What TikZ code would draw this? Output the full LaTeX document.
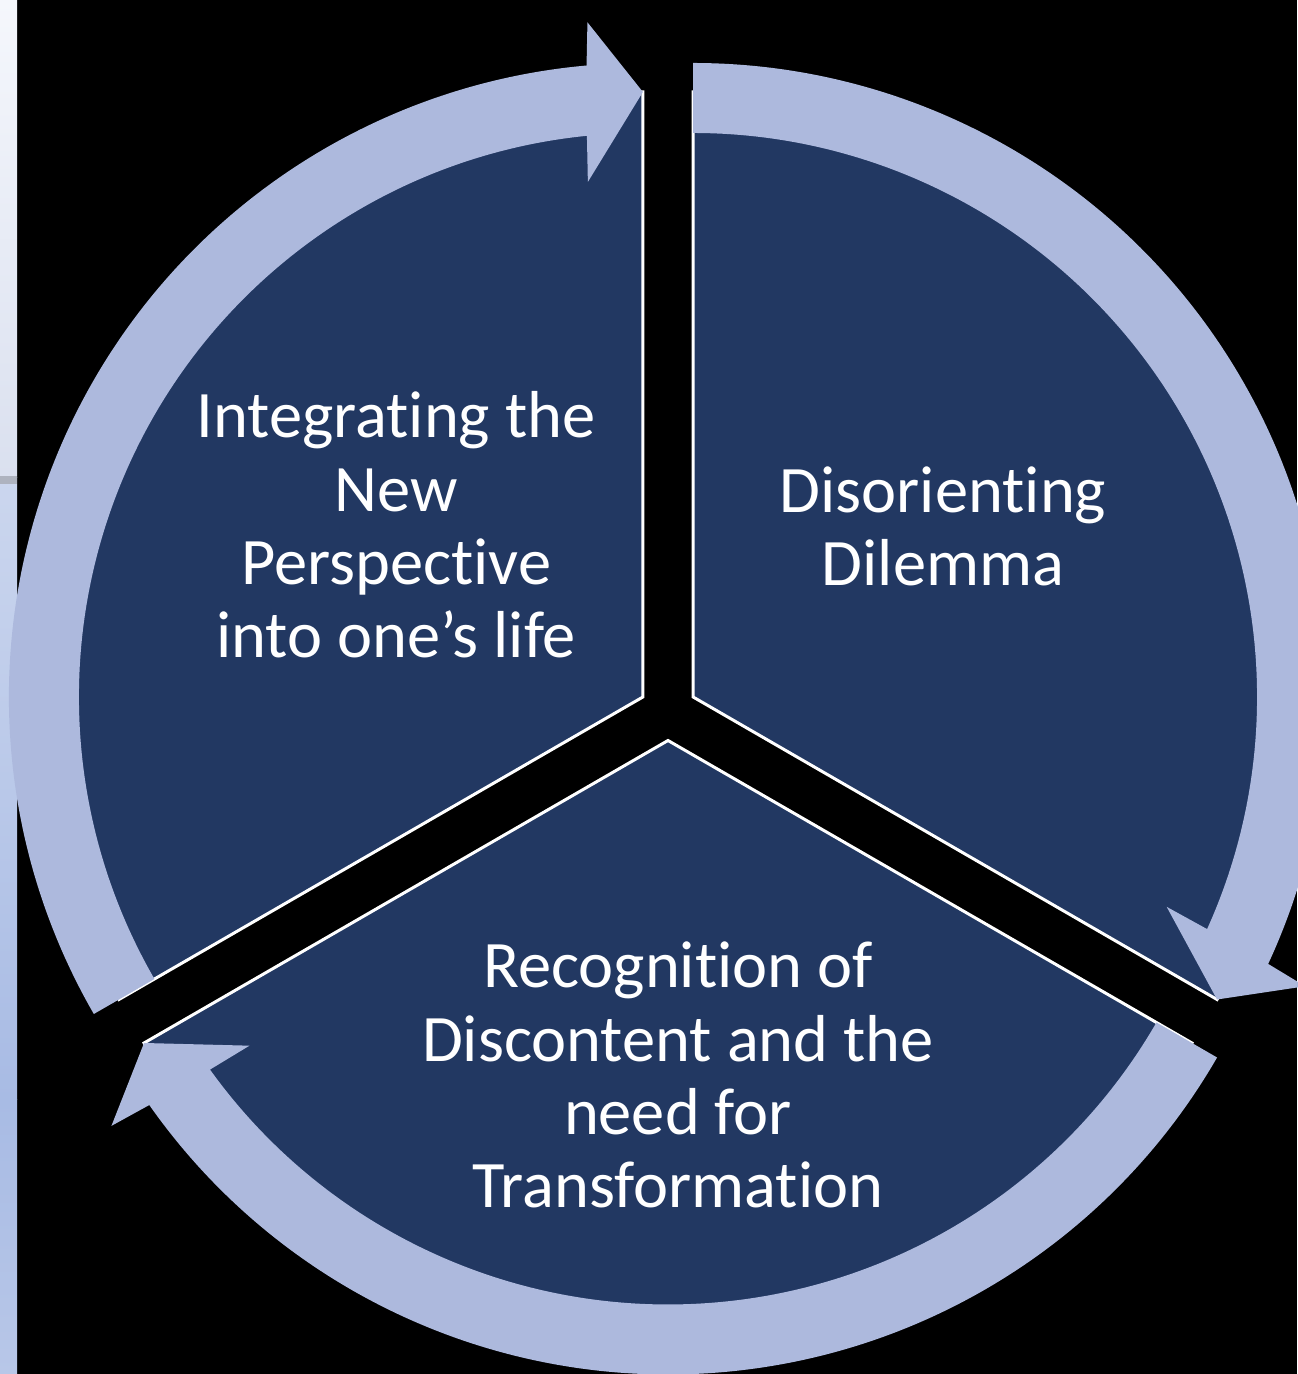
\documentclass[tikz,border=0pt]{standalone}
\usepackage{fontspec}
\setmainfont{Carlito}[Ligatures={NoCommon,NoContextual}]
\definecolor{segnavy}{RGB}{34,56,98}
\definecolor{bandblue}{RGB}{173,185,221}
\definecolor{stripA}{RGB}{245,247,252}
\definecolor{stripB}{RGB}{218,224,239}
\definecolor{stripC}{RGB}{203,214,238}
\definecolor{stripD}{RGB}{168,187,228}
\definecolor{stripE}{RGB}{184,199,232}

% circular arrow band around one segment: tail angle #1, tip angle #2 (clockwise)
\newcommand\bandarrow[2]{%
  \fill[band] (#1:6.34) arc[start angle=#1, end angle=#2+5.1, radius=6.34]
    -- (#2+4.7:6.77) -- (#2:6.05) -- (#2+6.1:5.18) -- (#2+5.7:5.64)
    arc[start angle=#2+5.7, end angle=#1, radius=5.64] -- cycle;}

\begin{document}
\begin{tikzpicture}[scale=2,
  seg/.style={fill=segnavy, draw=white, line width=1.7pt, line join=miter},
  band/.style={fill=bandblue},
  lbl/.style={text=white, align=center, inner sep=0pt,
              font=\fontsize{37.8}{41.8}\selectfont}]
\useasboundingbox (0,0) rectangle (12.97,13.74);
\fill[black] (0,0) rectangle (12.97,13.74);

% side strip
\shade[top color=stripA, bottom color=stripB] (0,8.96) rectangle (0.17,13.74);
\shade[top color=stripC, bottom color=stripD] (0,2.74) rectangle (0.17,8.96);
\shade[top color=stripD, bottom color=stripE] (0,0) rectangle (0.17,2.74);
\fill[black!20!stripB] (0,8.90) rectangle (0.17,8.98);

% apexes of the three exploded segments
\coordinate (tl) at (6.429,6.770);
\coordinate (tr) at (6.931,6.770);
\coordinate (bt) at (6.680,6.335);

% segments
\draw[seg] (tl) -- ++(90:6.05) arc[start angle=90, end angle=210, radius=6.05] -- cycle;
\draw[seg] (tr) -- ++(-30:6.05) arc[start angle=-30, end angle=90, radius=6.05] -- cycle;
\draw[seg] (bt) -- ++(210:6.05) arc[start angle=210, end angle=330, radius=6.05] -- cycle;

% arrows
\begin{scope}[shift={(tl)}]\bandarrow{210}{90}\end{scope}
\begin{scope}[shift={(tr)}]\bandarrow{90}{-30}\end{scope}
\begin{scope}[shift={(bt)}]\bandarrow{330}{210}\end{scope}

% labels (base anchor sits on the last line)
\node[lbl, anchor=base] (integ) at (3.96,7.16) {Integrating the\\New\\Perspective\\into one’s life};
\node[lbl, anchor=base] (disor) at (9.43,7.88) {Disorienting\\Dilemma};
\node[lbl, anchor=base] (recog) at (6.78,1.66) {Recognition of\\Discontent and the\\need for\\Transformation};
\end{tikzpicture}
\end{document}
